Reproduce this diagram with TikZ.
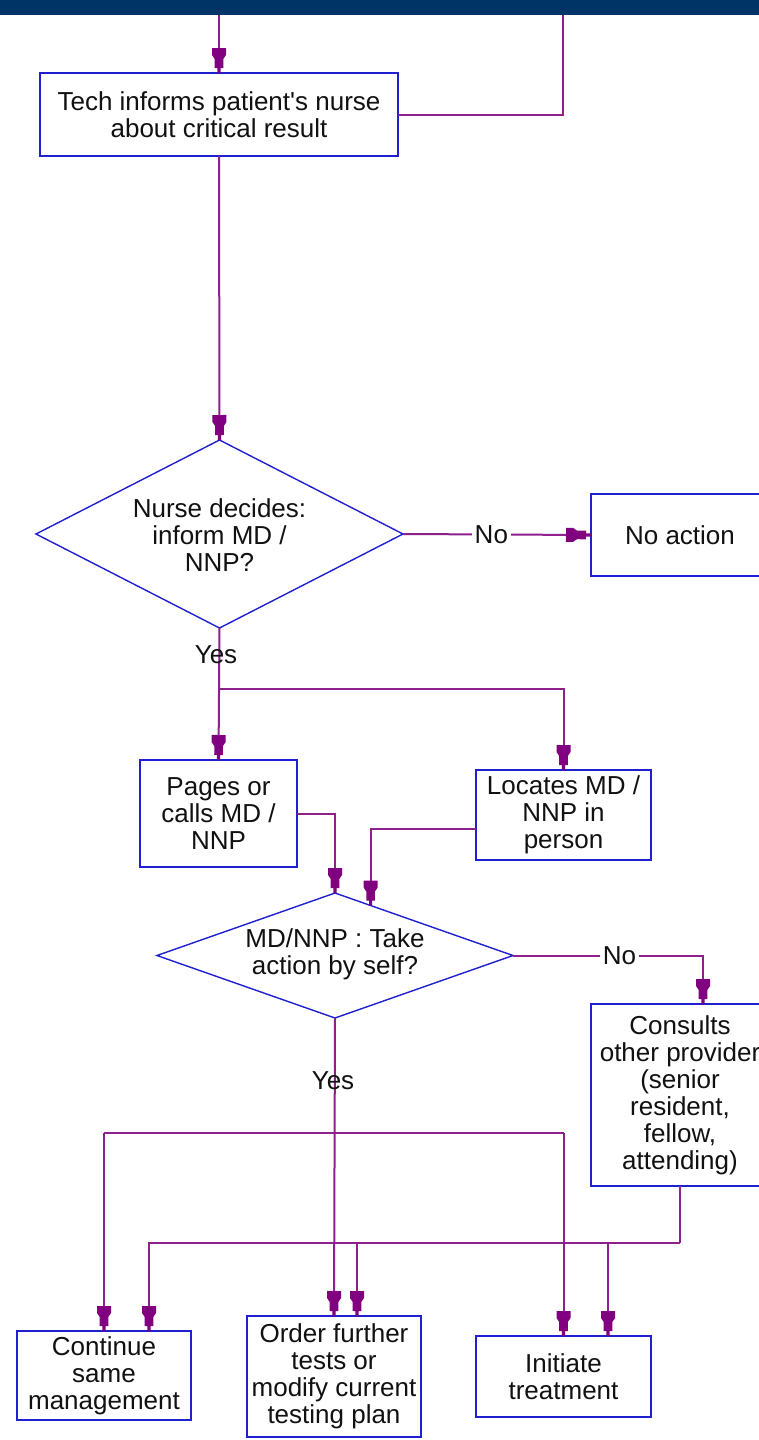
\documentclass[tikz,border=0pt]{standalone}
\usepackage{fontspec}
\setmainfont{Liberation Sans}
\usetikzlibrary{arrows.meta,calc}

\definecolor{navy}{RGB}{0,51,102}
\definecolor{flowline}{RGB}{142,32,142}
\definecolor{tipfill}{RGB}{128,0,128}
\definecolor{boxblue}{RGB}{32,32,208}
\definecolor{txt}{RGB}{17,17,17}

% plug-shaped arrow tip: wide collar, narrower body, thin neck
\pgfdeclarearrow{
  name = Plug,
  parameters = {},
  setup code = {
    \pgfarrowssettipend{0pt}
    \pgfarrowssetbackend{-25pt}
    \pgfarrowssetlineend{-20pt}
    \pgfarrowshullpoint{0pt}{1.5pt}
    \pgfarrowshullpoint{0pt}{-1.5pt}
    \pgfarrowshullpoint{-25pt}{7pt}
    \pgfarrowshullpoint{-25pt}{-7pt}
  },
  drawing code = {
    \pgfpathmoveto{\pgfpoint{0pt}{1.6pt}}
    \pgfpathlineto{\pgfpoint{-5pt}{1.6pt}}
    \pgfpathlineto{\pgfpoint{-5pt}{4.3pt}}
    \pgfpathlineto{\pgfpoint{-14pt}{4.3pt}}
    \pgfpathlineto{\pgfpoint{-18pt}{7pt}}
    \pgfpathlineto{\pgfpoint{-25pt}{7pt}}
    \pgfpathlineto{\pgfpoint{-25pt}{-7pt}}
    \pgfpathlineto{\pgfpoint{-18pt}{-7pt}}
    \pgfpathlineto{\pgfpoint{-14pt}{-4.3pt}}
    \pgfpathlineto{\pgfpoint{-5pt}{-4.3pt}}
    \pgfpathlineto{\pgfpoint{-5pt}{-1.6pt}}
    \pgfpathlineto{\pgfpoint{0pt}{-1.6pt}}
    \pgfpathclose
    \pgfusepathqfill
  }
}

\tikzset{
  box/.style={draw=boxblue, line width=2pt, fill=white, rectangle, inner sep=0pt,
    outer sep=0pt, align=center, text=txt, font=\fontsize{26}{27}\selectfont},
  rhomb/.style={draw=boxblue, line width=1.4pt, line join=miter},
  rhombtext/.style={inner sep=0pt, align=center, text=txt, font=\fontsize{26}{27}\selectfont},
  link/.style={draw=flowline, line width=2pt},
  flow/.style={link, -{Plug[fill=tipfill]}},
  lab/.style={fill=white, inner sep=3pt, text=txt, font=\fontsize{26}{27}\selectfont},
  tag/.style={inner sep=0pt, text=txt, font=\fontsize{26}{27}\selectfont},
}

\begin{document}
\begin{tikzpicture}[x=1pt, y=-1pt]
\useasboundingbox (0,0) rectangle (759,1440);
\clip (0,0) rectangle (759,1440);
\fill[white] (0,0) rectangle (759,1440);

% header band
\fill[navy] (0,0) rectangle (759,15);
\coordinate (in1) at (219,15);
\coordinate (in2) at (563,15);

% process boxes
\node[box, minimum width=358pt, minimum height=83pt] (tech) at (219,114.5)
  {Tech informs patient\textquotesingle s nurse\\about critical result};
\node[box, minimum width=178pt, minimum height=82pt] (noact) at (680,535) {No action};
\node[box, minimum width=157pt, minimum height=107pt] (pages) at (218.5,813.5)
  {Pages or\\calls MD /\\NNP};
\node[box, minimum width=175pt, minimum height=90pt] (locates) at (563.5,815)
  {Locates MD /\\NNP in\\person};
\node[box, minimum width=178pt, minimum height=182pt] (consults) at (680,1095)
  {Consults\\other provider\\(senior\\resident,\\fellow,\\attending)};
\node[box, minimum width=174pt, minimum height=89pt] (cont) at (104,1375.5)
  {Continue\\same\\management};
\node[box, minimum width=174pt, minimum height=121pt] (order) at (334,1376.5)
  {Order further\\tests or\\modify current\\testing plan};
\node[box, minimum width=175pt, minimum height=81pt] (init) at (563.5,1376.5)
  {Initiate\\treatment};

% decision diamonds: corners named, outline drawn, text centred
\coordinate (d1n) at (219.5,440);
\coordinate (d1e) at (403,534);
\coordinate (d1s) at (219.5,628);
\coordinate (d1w) at (36,534);
\draw[rhomb] (d1n) -- (d1e) -- (d1s) -- (d1w) -- cycle;
\node[rhombtext] (d1) at (219.5,535) {Nurse decides:\\inform MD /\\NNP?};

\coordinate (d2n) at (335,893);
\coordinate (d2e) at (513,955.5);
\coordinate (d2s) at (335,1018);
\coordinate (d2w) at (157,955.5);
\draw[rhomb] (d2n) -- (d2e) -- (d2s) -- (d2w) -- cycle;
\node[rhombtext] (d2) at (335,954.5) {MD/NNP : Take\\action by self?};

% junction points
\coordinate (j1) at (219,689);
\coordinate (h1) at (335,1133);
\coordinate (h2) at (680,1243);

% connectors
\draw[flow] (in1) -- (tech.north);
\draw[link] (in2) |- (tech.east);
\draw[flow] (tech.south) -- (d1n);
\draw[flow] (d1e) -- node[lab, pos=0.47] {No} (noact.west);

\draw[flow] (d1s) -- (pages.north);
\draw[flow] (j1) -| (locates.north);

\draw[flow] (pages.east) -| (d2n);
\draw[flow] ([yshift=-14pt]locates.west) -| ($(d2n)!0.2!(d2e)$);

\draw[flow] (d2e) -| node[lab, pos=0.28] {No} ([xshift=23pt]consults.north);

\draw[flow] (d2s) -- (order.north);
\draw[link] (cont.north |- h1) -- (init.north |- h1);
\draw[flow] (cont.north |- h1) -- (cont.north);
\draw[flow] (init.north |- h1) -- (init.north);

\draw[link] (consults.south) -- (h2);
\draw[flow] (h2) -| ([xshift=45pt]cont.north);
\draw[flow] ([xshift=23pt]order.north |- h2) -- ([xshift=23pt]order.north);
\draw[flow] ([xshift=44.5pt]init.north |- h2) -- ([xshift=44.5pt]init.north);

% branch labels set over the lines
\node[tag] (yes1) at (216,655) {Yes};
\node[tag] (yes2) at (333,1081) {Yes};
\end{tikzpicture}
\end{document}
